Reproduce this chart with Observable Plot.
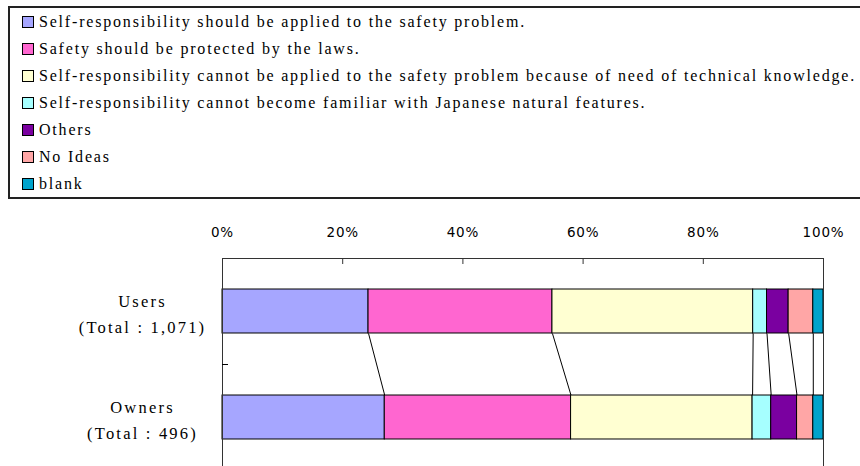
<!DOCTYPE html>
<html>
<head>
<meta charset="utf-8">
<script src="https://cdn.jsdelivr.net/npm/d3@7"></script>
<script src="https://cdn.jsdelivr.net/npm/@observablehq/plot@0.6"></script>
<style>
  html, body { margin: 0; padding: 0; background: #fff; overflow: hidden; }
  #wrap { position: relative; width: 860px; height: 466px; overflow: hidden; }
  #legend { position: absolute; left: 8px; top: 6px; width: 880px; border: 2px solid #222; box-sizing: border-box;
    font-size: 16px; color: #000; padding: 0 0 0 12px; }
  .row { height: 27px; line-height: 27px; white-space: nowrap; display: flex; align-items: center; }
  .sw { width: 12px; height: 12px; border: 1px solid #000; margin-right: 5px; flex: none; box-sizing: border-box; }
  #chart { position: absolute; left: 0; top: 200px; }
</style>
</head>
<body>
<div id="wrap">
  <div id="legend"></div>
  <div id="chart"></div>
</div>
<script>
const categories = ["Users", "Owners"];
const totals = ["1,071", "496"];
const responses = [
  "Self-responsibility should be applied to the safety problem.",
  "Safety should be protected by the laws.",
  "Self-responsibility cannot be applied to the safety problem because of need of technical knowledge.",
  "Self-responsibility cannot become familiar with Japanese natural features.",
  "Others",
  "No Ideas",
  "blank"
];
const usersValues  = [24.3, 30.6, 33.4, 2.3, 3.6, 4.1, 1.7];
const ownersValues = [27.0, 31.0, 30.2, 3.1, 4.3, 2.7, 1.7];
const colors = ["#a6a6ff", "#ff66d0", "#ffffd2", "#a6ffff", "#7a00a0", "#ffa6a6", "#00a3cc"];
const xTicks = [0, 20, 40, 60, 80, 100];

const seriesByCategory = [usersValues, ownersValues];
const barHalf = 0.2075;
const serif = "'Liberation Serif', 'Times New Roman', 'DejaVu Serif', serif";

// legend
const legend = document.getElementById("legend");
const labs = [];
responses.forEach((r, i) => {
  const row = document.createElement("div");
  row.className = "row";
  const sw = document.createElement("span");
  sw.className = "sw";
  sw.style.background = colors[i];
  const lab = document.createElement("span");
  lab.style.fontFamily = serif;
  lab.style.fontSize = "16px";
  lab.textContent = r;
  row.appendChild(sw);
  row.appendChild(lab);
  legend.appendChild(row);
  labs.push(lab);
});
{
  const w = labs[2].getBoundingClientRect().width;
  const ls = Math.max(0, (817 - w) / responses[2].length);
  labs.forEach(l => l.style.letterSpacing = ls + "px");
}

// table
const rows = [];
categories.forEach((c, ci) => {
  const vals = seriesByCategory[ci];
  const cum = d3.cumsum(vals);
  vals.forEach((v, k) => {
    rows.push({category: c, ci, response: responses[k], x1: cum[k] - v, x2: cum[k], color: colors[k]});
  });
});
const cumU = d3.cumsum(usersValues);
const cumO = d3.cumsum(ownersValues);
const links = responses.map((r, k) => ({x1: cumU[k], x2: cumO[k]}));

const chart = Plot.plot({
  width: 860,
  height: 270,
  marginLeft: 222,
  marginRight: 37,
  marginTop: 58,
  marginBottom: 0,
  style: {background: "transparent", overflow: "visible"},
  x: {domain: [0, 100]},
  y: {domain: [-0.5, 1.5], reverse: true},
  color: {type: "identity"},
  marks: [
    Plot.link(links, {x1: "x1", x2: "x2", y1: () => 0 + barHalf, y2: () => 1 - barHalf, stroke: "#000", strokeWidth: 1}),
    Plot.rectX(rows, {x1: "x1", x2: "x2", y1: d => d.ci - barHalf, y2: d => d.ci + barHalf, fill: "color", stroke: "#000", strokeWidth: 1}),
    Plot.frame({stroke: "#333"}),
    Plot.axisX({anchor: "top", ticks: xTicks, tickSize: 0, tickPadding: 22, tickFormat: d => d + "%",
      fontFamily: "DejaVu Sans", fontSize: 13.5, fill: "#000"}),
    Plot.axisX({anchor: "top", ticks: xTicks.slice(1, -1), tickSize: 5, dy: 5, tickFormat: () => "", stroke: "#333"}),
    Plot.axisY({anchor: "left", ticks: [0.5, 1.5], tickSize: 6, dx: 6, tickFormat: () => "", stroke: "#000"}),
    Plot.text(categories, {
      y: (d, i) => i, frameAnchor: "left", dx: -80, textAnchor: "middle",
      text: (d, i) => `${d}\n(Total : ${totals[i]})`,
      lineHeight: 1.6, fontFamily: serif, fontSize: 16.5, fill: "#000"
    })
  ]
});

d3.select(chart).selectAll("text")
  .filter(function() { return this.textContent.includes("Total"); })
  .attr("letter-spacing", 2.2).style("letter-spacing", "2.2px");
d3.select(chart).selectAll("text")
  .filter(function() { return /%$/.test(this.textContent); })
  .attr("letter-spacing", 0.8).style("letter-spacing", "0.8px");

document.getElementById("chart").appendChild(chart);
</script>
</body>
</html>
